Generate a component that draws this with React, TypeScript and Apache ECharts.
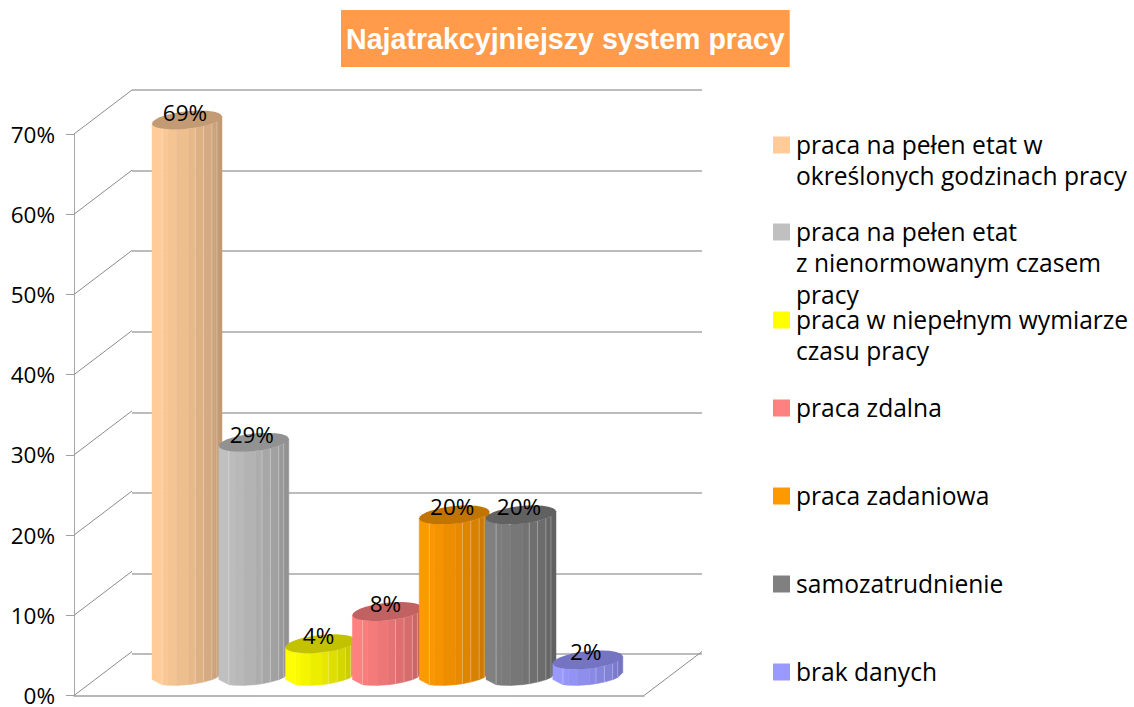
import React, { useEffect, useRef } from "react";
import * as echarts from "echarts";

const titleText = "Najatrakcyjniejszy system pracy";
const categories = [
  "praca na pełen etat w\nokreślonych godzinach pracy",
  "praca na pełen etat\nz nienormowanym czasem\npracy",
  "praca w niepełnym wymiarze\nczasu pracy",
  "praca zdalna",
  "praca zadaniowa",
  "samozatrudnienie",
  "brak danych",
];
const values = [69, 29, 4, 8, 20, 20, 2];
const colors = ["#FFCC99", "#C0C0C0", "#FFFF00", "#FF8080", "#FF9900", "#808080", "#9999FF"];
const yTicks = [0, 10, 20, 30, 40, 50, 60, 70];
const legendSwatchCenters = [145, 232, 320, 408, 496, 584, 672];

const depthX = 58;
const depthY = -44;
const facetStops = [0, 0.144, 0.22, 0.354, 0.522, 0.617, 0.737, 0.856, 0.928, 1];
const facetShade = [1, 0.98, 0.96, 0.93, 0.9, 0.87, 0.84, 0.8, 0.76];
const highlightStops = [1, 5, 6, 7, 8];
const radiusX = 35;
const radiusY = 8.8;
const skew = -0.1;
const labelFont = '22.5px "Open Sans"';

function shade(hex: string, f: number) {
  const n = parseInt(hex.slice(1), 16);
  const r = Math.round(((n >> 16) & 255) * f);
  const g = Math.round(((n >> 8) & 255) * f);
  const b = Math.round((n & 255) * f);
  return `rgb(${r},${g},${b})`;
}

function frontEdge(stop: number) {
  const c = stop * 2 - 1;
  const s = Math.sqrt(Math.max(0, 1 - c * c));
  return [c * radiusX, radiusY * s + skew * c * radiusX];
}

function renderCylinder(params: any, api: any) {
  const idx = api.value(0);
  const val = api.value(1);
  const top = api.coord([idx, val]);
  const base = api.coord([idx, 0]);
  const col = colors[idx];
  const children: any[] = [];
  facetShade.forEach((f, i) => {
    const a = frontEdge(facetStops[i]);
    const b = frontEdge(facetStops[i + 1]);
    children.push({
      type: "polygon",
      shape: {
        points: [
          [top[0] + a[0], top[1] + a[1]],
          [top[0] + b[0], top[1] + b[1]],
          [base[0] + b[0], base[1] + b[1]],
          [base[0] + a[0], base[1] + a[1]],
        ],
      },
      style: { fill: shade(col, f), stroke: shade(col, f), lineWidth: 0.5 },
    });
  });
  highlightStops.forEach((i) => {
    const a = frontEdge(facetStops[i]);
    children.push({
      type: "line",
      shape: { x1: top[0] + a[0], y1: top[1] + a[1], x2: base[0] + a[0], y2: base[1] + a[1] },
      style: { stroke: "rgba(255,255,255,0.3)", lineWidth: 1 },
    });
  });
  const pts: number[][] = [];
  for (let k = 0; k < 28; k++) {
    const t = (k / 28) * Math.PI * 2;
    const x = Math.cos(t) * radiusX;
    pts.push([top[0] + x, top[1] + radiusY * Math.sin(t) + skew * x]);
  }
  children.push({ type: "polygon", shape: { points: pts }, style: { fill: shade(col, 0.76) } });
  children.push({
    type: "text",
    z2: 100,
    style: {
      text: `${val}%`,
      x: top[0] - 2,
      y: top[1] - 8,
      align: "center",
      verticalAlign: "middle",
      font: labelFont,
      fill: "#000",
    },
  });
  return { type: "group", children };
}

function renderDiagonal(params: any, api: any) {
  const sys = params.coordSys;
  const v = api.value(0);
  const p = api.coord([0, v]);
  const lines = [{ x: sys.x, y: p[1] }];
  if (v === 0) lines.push({ x: sys.x + sys.width, y: p[1] });
  return {
    type: "group",
    children: lines.map((l) => ({
      type: "line",
      shape: { x1: l.x, y1: l.y, x2: l.x + depthX, y2: l.y + depthY },
      style: { stroke: "#8c8c8c", lineWidth: 1 },
    })),
  };
}

const legendGraphics = categories.flatMap((name, i) => [
  {
    type: "rect",
    shape: { x: 773, y: legendSwatchCenters[i] - 8.5, width: 17, height: 17 },
    style: { fill: colors[i] },
  },
  ...name.split("\n").map((line, j) => ({
    type: "text",
    x: 796,
    y: legendSwatchCenters[i] - 1 + j * 31.5,
    style: {
      text: line,
      font: '24.6px "Open Sans"',
      lineHeight: 24,
      fill: "#000",
      verticalAlign: "middle",
    },
  })),
]);

export default function App() {
  const ref = useRef<HTMLDivElement>(null);
  useEffect(() => {
    const chart = echarts.init(ref.current!, null, { renderer: "svg" });
    const hiddenY = { type: "value", min: 0, max: 70, interval: 10 };
    chart.setOption({
      animation: false,
      backgroundColor: "#fff",
      title: {
        text: titleText,
        left: 341,
        top: 10,
        padding: [13, 5, 13, 5],
        backgroundColor: "#FF9B4B",
        textStyle: { color: "#fff", fontFamily: "Liberation Sans", fontWeight: "bold", fontSize: 28.6, lineHeight: 31 },
      },
      grid: [
        { left: 74, width: 570, top: 134, height: 564 },
        { left: 132, width: 570, top: 90, height: 564 },
        { left: 153.6, width: 467.6, top: 112, height: 564 },
      ],
      xAxis: [
        {
          gridIndex: 0,
          type: "category",
          data: categories,
          axisLabel: { show: false },
          axisTick: { show: false },
          axisLine: { lineStyle: { color: "#a0a0a0", width: 1.5 } },
        },
        { gridIndex: 1, type: "category", data: categories, show: false },
        { gridIndex: 2, type: "category", data: categories, show: false },
      ],
      yAxis: [
        {
          ...hiddenY,
          gridIndex: 0,
          axisLine: { show: true, lineStyle: { color: "#a8a8a8", width: 1 } },
          axisTick: { show: true, length: 8, lineStyle: { color: "#a0a0a0" } },
          axisLabel: {
            margin: 19,
            formatter: "{value}%",
            color: "#000",
            fontFamily: "Open Sans",
            fontSize: 22.5,
            padding: [4, 0, 0, 0],
          },
          splitLine: { show: false },
        },
        {
          ...hiddenY,
          gridIndex: 1,
          axisLine: { show: false },
          axisTick: { show: false },
          axisLabel: { show: false },
          splitLine: { show: true, lineStyle: { color: "#a6a6a6", width: 1.5 } },
        },
        { ...hiddenY, gridIndex: 2, show: false },
      ],
      series: [
        {
          type: "custom",
          xAxisIndex: 0,
          yAxisIndex: 0,
          clip: false,
          silent: true,
          data: yTicks.map((v) => [v]),
          encode: { y: 0 },
          renderItem: renderDiagonal,
        },
        {
          type: "custom",
          xAxisIndex: 2,
          yAxisIndex: 2,
          clip: false,
          silent: true,
          data: values.map((v, i) => [i, v]),
          encode: { x: 0, y: 1 },
          renderItem: renderCylinder,
        },
      ],
      graphic: legendGraphics,
    });
    return () => chart.dispose();
  }, []);
  return <div ref={ref} style={{ position: "absolute", left: 0, top: 0, width: 1134, height: 707 }} />;
}
